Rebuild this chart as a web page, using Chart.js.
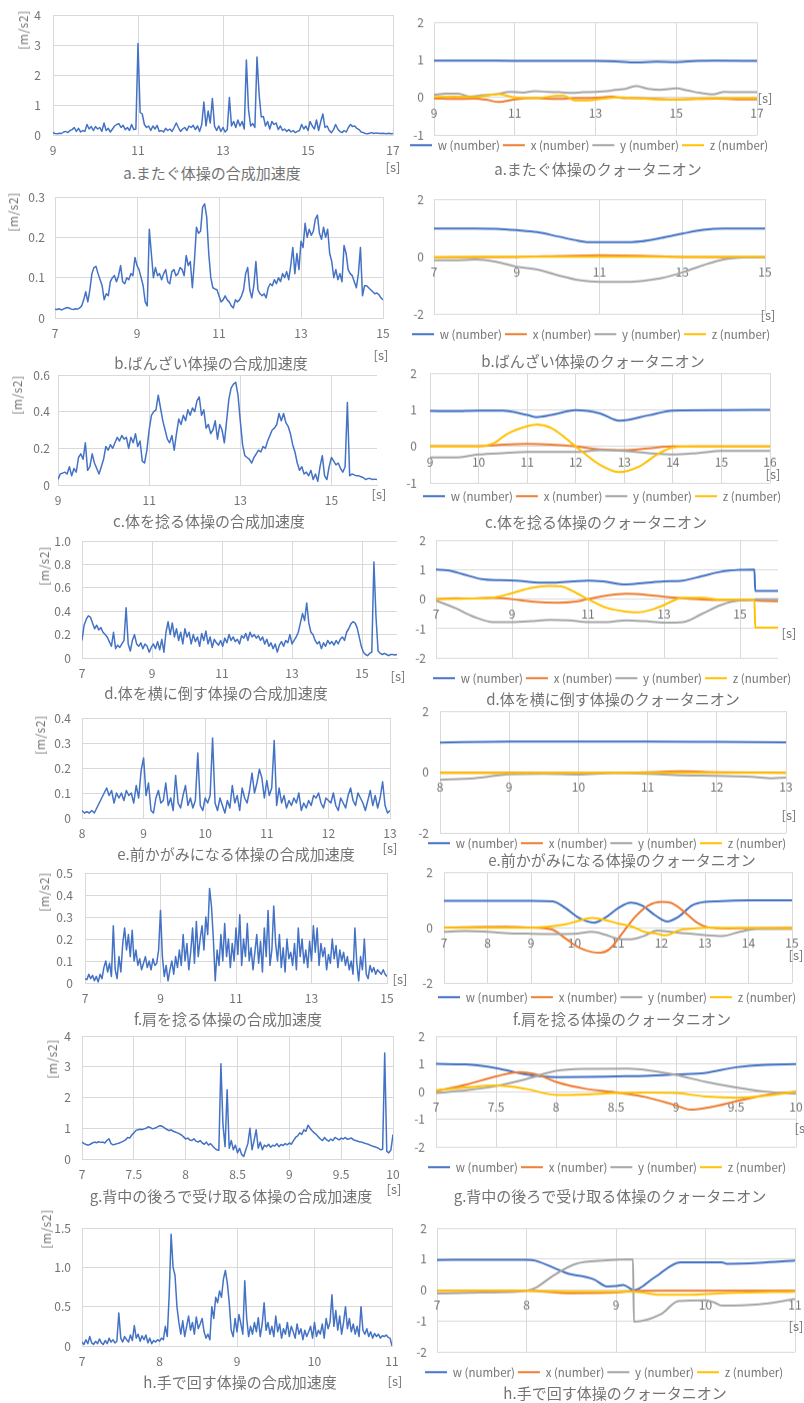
<!DOCTYPE html>
<html>
<head>
<meta charset="utf-8">
<script src="https://cdn.jsdelivr.net/npm/chart.js@4/dist/chart.umd.min.js"></script>
<style>
  html, body { margin: 0; padding: 0; background: #fff; width: 804px; height: 1403px; overflow: hidden; position: relative;
    font-family: "Noto Sans CJK JP", "Noto Sans", sans-serif; }
  canvas { position: absolute; }
  .t { position: absolute; transform: translate(-50%, -50%); white-space: nowrap; color: #737373; line-height: 1; }
  .title { font-size: 15px; }
  .unit { font-size: 13px; }
  .ylab { font-size: 12px; transform: translate(-50%, -50%) rotate(-90deg); letter-spacing: 0.5px; }
</style>
</head>
<body>
<script>
// ---- resultant acceleration samples [m/s2], one array per exercise (regular sampling) ----
const accA = [
  0.08,0.05,0.04,0.06,0.05,0.10,0.12,0.08,0.15,0.18,
  0.25,0.12,0.22,0.10,0.15,0.12,0.35,0.20,0.28,0.15,
  0.28,0.20,0.25,0.12,0.40,0.15,0.22,0.10,0.20,0.30,
  0.35,0.38,0.25,0.32,0.18,0.25,0.15,0.35,0.18,0.20,
  3.05,0.75,0.70,0.35,0.25,0.30,0.15,0.30,0.20,0.32,
  0.12,0.15,0.10,0.22,0.15,0.20,0.12,0.25,0.40,0.25,
  0.12,0.20,0.25,0.15,0.30,0.25,0.32,0.18,0.30,0.12,
  0.35,1.10,0.30,0.80,0.40,1.22,0.30,0.15,0.30,0.12,
  0.25,0.10,0.18,1.25,0.30,0.45,0.25,0.50,0.30,0.45,
  0.20,2.50,0.85,0.30,0.38,0.25,2.60,1.35,0.60,0.62,
  0.30,0.45,0.20,0.45,0.35,0.40,0.18,0.30,0.15,0.20,
  0.12,0.18,0.10,0.15,0.08,0.12,0.15,0.35,0.20,0.30,
  0.15,0.45,0.30,0.20,0.50,0.15,0.45,0.70,0.25,0.30,
  0.15,0.08,0.18,0.35,0.20,0.12,0.08,0.15,0.10,0.25,
  0.35,0.28,0.30,0.22,0.18,0.10,0.08,0.05,0.04,0.06,
  0.08,0.05,0.07,0.06,0.05,0.06,0.05,0.04,0.06,0.04,
  0.05
];
const accB = [
  0.022,0.021,0.023,0.020,0.022,0.024,0.026,0.024,0.022,0.021,
  0.023,0.022,0.025,0.030,0.045,0.065,0.040,0.070,0.110,0.125,
  0.128,0.110,0.095,0.080,0.045,0.060,0.055,0.090,0.100,0.105,
  0.090,0.105,0.130,0.090,0.085,0.100,0.095,0.110,0.105,0.150,
  0.130,0.120,0.100,0.080,0.040,0.030,0.220,0.160,0.100,0.125,
  0.105,0.110,0.095,0.110,0.120,0.090,0.085,0.115,0.120,0.105,
  0.110,0.125,0.120,0.105,0.155,0.130,0.140,0.075,0.140,0.225,
  0.210,0.215,0.275,0.283,0.250,0.160,0.100,0.075,0.072,0.070,
  0.055,0.040,0.045,0.055,0.045,0.040,0.030,0.025,0.045,0.040,
  0.045,0.055,0.070,0.110,0.125,0.070,0.050,0.080,0.140,0.070,
  0.060,0.055,0.060,0.050,0.075,0.085,0.080,0.095,0.085,0.100,
  0.090,0.110,0.100,0.115,0.095,0.130,0.175,0.110,0.160,0.120,
  0.190,0.175,0.235,0.200,0.220,0.205,0.215,0.245,0.255,0.210,
  0.195,0.225,0.200,0.220,0.160,0.140,0.100,0.120,0.095,0.110,
  0.090,0.180,0.160,0.120,0.110,0.105,0.090,0.075,0.110,0.175,
  0.055,0.080,0.080,0.075,0.070,0.065,0.060,0.062,0.058,0.050,
  0.045
];
const accC = [
  0.03,0.06,0.065,0.07,0.06,0.10,0.05,0.09,0.07,0.15,
  0.17,0.14,0.23,0.08,0.10,0.17,0.12,0.09,0.06,0.10,
  0.14,0.21,0.19,0.22,0.20,0.23,0.26,0.24,0.27,0.25,
  0.26,0.20,0.26,0.23,0.28,0.21,0.24,0.13,0.12,0.19,
  0.30,0.38,0.40,0.41,0.49,0.42,0.35,0.30,0.25,0.23,
  0.27,0.19,0.28,0.36,0.33,0.38,0.35,0.41,0.38,0.42,
  0.40,0.46,0.48,0.38,0.41,0.31,0.33,0.28,0.30,0.35,
  0.25,0.33,0.30,0.23,0.35,0.47,0.53,0.55,0.56,0.49,
  0.35,0.22,0.16,0.15,0.14,0.12,0.15,0.17,0.19,0.18,
  0.21,0.20,0.24,0.27,0.30,0.31,0.33,0.39,0.35,0.39,
  0.34,0.32,0.28,0.22,0.18,0.12,0.08,0.10,0.06,0.07,
  0.05,0.08,0.03,0.06,0.02,0.10,0.16,0.05,0.03,0.10,
  0.15,0.13,0.11,0.12,0.09,0.07,0.10,0.45,0.05,0.06,
  0.055,0.05,0.05,0.045,0.04,0.03,0.035,0.035,0.03,0.032,
  0.03
];
const accD = [
  0.15,0.28,0.33,0.36,0.35,0.30,0.25,0.28,0.24,0.26,
  0.22,0.20,0.18,0.14,0.10,0.22,0.08,0.11,0.09,0.12,
  0.15,0.43,0.12,0.06,0.15,0.20,0.12,0.10,0.13,0.08,
  0.12,0.10,0.05,0.09,0.12,0.08,0.14,0.07,0.16,0.05,
  0.22,0.31,0.20,0.30,0.18,0.25,0.15,0.22,0.12,0.25,
  0.18,0.22,0.12,0.20,0.14,0.18,0.10,0.21,0.15,0.23,
  0.12,0.18,0.09,0.16,0.13,0.11,0.15,0.10,0.17,0.13,
  0.20,0.15,0.18,0.14,0.16,0.12,0.19,0.17,0.21,0.15,
  0.22,0.18,0.20,0.17,0.19,0.15,0.18,0.12,0.16,0.10,
  0.13,0.08,0.12,0.05,0.11,0.14,0.10,0.15,0.13,0.20,
  0.12,0.15,0.18,0.22,0.30,0.38,0.32,0.47,0.30,0.22,
  0.20,0.15,0.12,0.14,0.08,0.13,0.10,0.15,0.12,0.14,
  0.11,0.15,0.12,0.16,0.18,0.15,0.22,0.25,0.29,0.31,
  0.30,0.26,0.18,0.10,0.05,0.03,0.02,0.04,0.05,0.82,
  0.35,0.06,0.04,0.03,0.04,0.03,0.02,0.03,0.03,0.025,
  0.03
];
const accE = [
  0.03,0.02,0.025,0.02,0.03,0.02,0.04,0.06,0.08,0.10,
  0.12,0.09,0.11,0.06,0.10,0.08,0.10,0.07,0.11,0.09,
  0.10,0.06,0.13,0.08,0.19,0.24,0.09,0.14,0.03,0.02,
  0.08,0.11,0.06,0.07,0.14,0.05,0.08,0.03,0.17,0.06,
  0.04,0.09,0.13,0.05,0.08,0.04,0.07,0.26,0.05,0.03,
  0.08,0.06,0.09,0.32,0.06,0.03,0.08,0.05,0.02,0.07,
  0.04,0.13,0.06,0.09,0.03,0.12,0.08,0.06,0.11,0.18,
  0.10,0.14,0.195,0.16,0.08,0.15,0.09,0.12,0.31,0.05,
  0.12,0.06,0.09,0.04,0.07,0.05,0.08,0.06,0.10,0.03,
  0.06,0.04,0.07,0.05,0.09,0.08,0.10,0.06,0.04,0.08,
  0.07,0.06,0.10,0.05,0.03,0.08,0.06,0.04,0.09,0.12,
  0.07,0.05,0.10,0.08,0.06,0.03,0.07,0.11,0.05,0.09,
  0.04,0.08,0.145,0.05,0.02,0.03
];
const accF = [
  0.02,0.015,0.04,0.02,0.035,0.01,0.03,0.005,0.04,0.02,
  0.07,0.10,0.05,0.09,0.03,0.26,0.06,0.02,0.12,0.05,
  0.18,0.25,0.15,0.22,0.12,0.24,0.10,0.15,0.08,0.11,
  0.06,0.09,0.12,0.07,0.10,0.06,0.11,0.08,0.09,0.15,
  0.33,0.12,0.03,0.08,0.01,0.06,0.10,0.04,0.12,0.07,
  0.15,0.08,0.22,0.10,0.18,0.06,0.14,0.25,0.09,0.28,
  0.12,0.20,0.26,0.15,0.30,0.22,0.43,0.35,0.20,0.01,
  0.15,0.08,0.22,0.10,0.27,0.12,0.20,0.07,0.18,0.10,
  0.25,0.13,0.31,0.08,0.20,0.12,0.27,0.10,0.16,0.06,
  0.14,0.22,0.09,0.19,0.05,0.25,0.12,0.33,0.08,0.15,
  0.35,0.18,0.10,0.22,0.07,0.16,0.05,0.20,0.11,0.14,
  0.08,0.18,0.06,0.25,0.12,0.20,0.09,0.15,0.07,0.19,
  0.10,0.26,0.14,0.25,0.08,0.18,0.12,0.16,0.06,0.13,
  0.09,0.20,0.11,0.17,0.07,0.15,0.10,0.14,0.08,0.12,
  0.06,0.10,0.04,0.25,0.09,0.01,0.12,0.06,0.20,0.04,
  0.02,0.08,0.05,0.07,0.04,0.06,0.05,0.04,0.06,0.04,
  0.03
];
const accG = [
  0.55,0.50,0.47,0.45,0.48,0.52,0.55,0.53,0.56,0.54,
  0.55,0.52,0.60,0.66,0.50,0.46,0.48,0.50,0.52,0.55,
  0.58,0.62,0.70,0.68,0.78,0.85,0.93,0.95,0.97,0.96,
  0.98,1.00,1.05,1.02,0.98,1.00,1.03,1.07,1.08,1.05,
  1.00,0.96,0.92,0.95,0.90,0.88,0.85,0.82,0.78,0.72,
  0.65,0.68,0.62,0.60,0.66,0.58,0.55,0.60,0.52,0.48,
  0.55,0.45,0.50,0.42,0.35,0.30,0.28,3.10,1.10,0.40,
  2.25,0.35,0.60,0.30,0.45,0.20,0.35,0.15,0.08,0.30,
  0.50,1.00,0.30,0.60,0.95,0.35,0.55,0.30,0.45,0.40,
  0.48,0.38,0.45,0.42,0.50,0.40,0.47,0.44,0.50,0.46,
  0.52,0.48,0.60,0.70,0.75,0.85,0.80,0.95,0.90,1.10,
  1.00,0.92,0.85,0.80,0.72,0.65,0.60,0.70,0.62,0.58,
  0.65,0.60,0.70,0.66,0.62,0.68,0.65,0.70,0.64,0.66,
  0.68,0.62,0.60,0.58,0.55,0.55,0.52,0.50,0.48,0.45,
  0.42,0.40,0.38,0.35,0.30,0.32,3.45,0.25,0.20,0.30,
  0.80
];
const accH = [
  0.05,0.02,0.08,0.03,0.12,0.04,0.02,0.06,
  0.03,0.09,0.04,0.02,0.07,0.03,0.10,0.05,
  0.08,0.04,0.06,0.42,0.10,0.05,0.12,0.08,
  0.05,0.14,0.07,0.26,0.10,0.15,0.06,0.13,
  0.08,0.14,0.04,0.10,0.03,0.07,0.05,0.08,
  0.06,0.10,0.08,0.25,0.12,0.65,1.42,1.00,
  0.90,0.50,0.30,0.15,0.32,0.12,0.25,0.38,
  0.20,0.30,0.15,0.37,0.22,0.28,0.35,0.18,
  0.10,0.15,0.08,0.50,0.35,0.62,0.55,0.70,
  0.62,0.85,0.96,0.80,0.55,0.20,0.12,0.35,
  0.18,0.40,0.28,0.15,0.83,0.35,0.12,0.25,
  0.15,0.30,0.18,0.36,0.12,0.28,0.55,0.20,
  0.30,0.15,0.25,0.12,0.38,0.18,0.28,0.10,
  0.22,0.15,0.30,0.12,0.25,0.18,0.10,0.28,
  0.15,0.22,0.08,0.20,0.12,0.18,0.25,0.10,
  0.30,0.12,0.20,0.15,0.28,0.10,0.35,0.22,
  0.30,0.65,0.25,0.45,0.20,0.38,0.15,0.30,
  0.50,0.22,0.35,0.18,0.28,0.15,0.25,0.12,
  0.50,0.20,0.15,0.22,0.12,0.18,0.10,0.16,
  0.12,0.15,0.10,0.13,0.12,0.14,0.11,0.10,
  0.00
];
// first sample time and sampling step [s] of each acceleration array
const accStart = [9, 7, 9, 7, 8, 7, 7, 7];
const accStep  = [0.05, 0.05, 0.05, 0.06, 0.04, 0.05, 0.02, 0.025];

// ---- quaternion components, [time s, value] ----
const qA_w = [[9,0.98],[10,0.98],[11,0.97],[12,0.97],[13,0.97],[13.5,0.96],[14,0.93],[14.5,0.95],[15,0.94],[15.5,0.97],[16,0.98],[17,0.97]];
const qA_x = [[9,-0.03],[9.5,-0.04],[10,-0.03],[10.3,-0.06],[10.6,-0.12],[11,-0.05],[11.5,-0.02],[12,-0.04],[12.5,-0.02],[13,-0.01],[13.4,0.02],[13.7,-0.02],[14,-0.02],[15,-0.05],[16,-0.03],[16.5,-0.05],[17,-0.05]];
const qA_y = [[9,0.07],[9.3,0.1],[9.6,0.1],[9.9,0.02],[10.2,0.06],[10.5,0.08],[10.9,0.15],[11.2,0.13],[11.5,0.17],[11.8,0.15],[12.1,0.14],[12.4,0.12],[12.7,0.14],[13,0.15],[13.3,0.17],[13.5,0.2],[13.7,0.22],[14,0.3],[14.3,0.23],[14.6,0.2],[15,0.24],[15.3,0.18],[15.6,0.12],[15.9,0.08],[16.2,0.15],[16.5,0.14],[17,0.14]];
const qA_z = [[9,0.01],[9.5,0.02],[10,0.01],[10.3,0.05],[10.6,0.09],[11,0],[11.5,-0.02],[12,0.04],[12.2,0.05],[12.5,-0.08],[12.8,-0.08],[13.2,-0.03],[13.6,0],[14,-0.02],[14.5,-0.05],[15,-0.06],[15.5,-0.03],[16,-0.02],[17,-0.02]];

const qB_w = [[7,0.98],[8,0.98],[8.5,0.97],[9,0.92],[9.5,0.85],[10,0.7],[10.5,0.55],[10.8,0.5],[11.5,0.5],[12,0.53],[12.5,0.65],[13,0.8],[13.5,0.93],[14,0.98],[15,0.98]];
const qB_x = [[7,-0.02],[9,-0.01],[10,0.02],[11,0.05],[12,0.03],[13,-0.01],[15,-0.02]];
const qB_y = [[7,-0.13],[7.5,-0.13],[8,-0.1],[8.5,-0.18],[9,-0.35],[9.5,-0.45],[10,-0.65],[10.5,-0.82],[11,-0.88],[11.5,-0.88],[12,-0.85],[12.5,-0.75],[13,-0.55],[13.5,-0.3],[14,-0.1],[14.5,-0.03],[15,-0.02]];
const qB_z = [[7,-0.02],[8,0],[9,0],[11,0],[13,-0.01],[15,0]];

const qC_w = [[9,0.97],[9.5,0.96],[10,0.98],[10.5,0.98],[11,0.86],[11.2,0.8],[11.5,0.86],[12,0.99],[12.5,0.9],[12.9,0.7],[13.5,0.85],[14,0.98],[15,0.99],[16,1.0]];
const qC_x = [[9,0.01],[10,0.01],[10.5,0.05],[11,0.07],[11.5,0.05],[12,0],[12.5,-0.08],[13,-0.1],[13.5,-0.05],[14,0],[15,0],[16,0]];
const qC_y = [[9,-0.3],[9.5,-0.3],[10,-0.22],[10.5,-0.18],[11,-0.15],[11.5,-0.15],[12,-0.15],[12.5,-0.1],[13,-0.12],[13.5,-0.18],[14,-0.22],[14.5,-0.18],[15,-0.12],[15.5,-0.12],[16,-0.12]];
const qC_z = [[9,0],[10,0],[10.3,0.08],[10.6,0.35],[11,0.55],[11.2,0.6],[11.5,0.5],[12,0],[12.5,-0.5],[12.9,-0.7],[13.3,-0.55],[13.7,-0.2],[14,-0.03],[14.5,0],[16,0]];

const qD_w = [[7,1.0],[7.3,0.98],[7.7,0.85],[8.2,0.68],[8.7,0.64],[9.2,0.62],[9.6,0.57],[10.1,0.56],[10.6,0.6],[11,0.63],[11.4,0.6],[12,0.5],[12.5,0.55],[13,0.6],[13.5,0.63],[14,0.78],[14.5,0.93],[15,0.99],[15.38,1.0],[15.4,0.28],[16,0.28]];
const qD_x = [[7,0],[7.5,0.03],[8,0.02],[8.5,0.05],[9,0],[9.5,-0.08],[10.2,-0.12],[10.7,-0.08],[11,0],[11.5,0.12],[12,0.18],[12.5,0.15],[13,0.08],[13.5,0.03],[14,-0.01],[14.5,-0.03],[15,-0.03],[15.38,-0.02],[15.4,-0.05],[16,-0.07]];
const qD_y = [[7,-0.05],[7.5,-0.3],[8,-0.6],[8.5,-0.78],[9,-0.78],[9.5,-0.75],[10,-0.7],[10.5,-0.72],[11,-0.78],[11.5,-0.78],[12,-0.72],[12.5,-0.75],[13,-0.8],[13.5,-0.78],[14,-0.5],[14.5,-0.2],[15,-0.05],[15.38,-0.02],[15.4,0],[16,0]];
const qD_z = [[7,0],[8,0.02],[8.5,0.05],[9,0.2],[9.5,0.38],[10,0.45],[10.3,0.43],[10.7,0.2],[11,0],[11.5,-0.3],[12,-0.42],[12.3,-0.45],[12.7,-0.35],[13,-0.2],[13.5,0.05],[14,0.05],[14.5,-0.02],[15,-0.02],[15.38,-0.02],[15.4,-0.97],[16,-0.97]];

const qE_w = [[8,0.97],[9,1.0],[10,1.0],[11,1.0],[12,0.99],[13,0.98]];
const qE_x = [[8,-0.02],[9,-0.02],[10,-0.03],[11,0],[11.5,0.03],[12,0],[13,-0.02]];
const qE_y = [[8,-0.25],[8.5,-0.2],[9,-0.07],[9.5,-0.05],[10,-0.08],[10.5,-0.03],[11,-0.05],[11.5,-0.1],[12,-0.12],[12.5,-0.15],[12.8,-0.2],[13,-0.18]];
const qE_z = [[8,-0.02],[9,-0.03],[10,-0.02],[13,-0.02]];

const qF_w = [[7,0.97],[8,0.97],[9,0.97],[9.5,0.95],[9.8,0.7],[10.1,0.35],[10.45,0.18],[10.7,0.35],[11,0.7],[11.3,0.9],[11.55,0.8],[11.85,0.45],[12.13,0.22],[12.4,0.4],[12.7,0.8],[13,0.93],[13.3,0.95],[14,0.98],[15,0.98]];
const qF_x = [[7,0],[8.4,0.03],[9,0],[9.5,-0.08],[9.8,-0.4],[10.1,-0.72],[10.4,-0.88],[10.6,-0.9],[10.8,-0.78],[11.1,-0.2],[11.4,0.4],[11.7,0.8],[12,0.93],[12.2,0.9],[12.5,0.6],[12.8,0.2],[13.1,0],[13.5,-0.03],[14,-0.02],[15,0]];
const qF_y = [[7,-0.15],[7.5,-0.12],[8,-0.15],[8.5,-0.2],[9,-0.22],[9.5,-0.23],[10,-0.22],[10.4,-0.15],[10.7,-0.25],[11,-0.4],[11.3,-0.42],[11.6,-0.3],[11.9,-0.1],[12.2,-0.15],[12.5,-0.2],[13,-0.27],[13.4,-0.3],[13.8,-0.15],[14.2,-0.05],[15,-0.05]];
const qF_z = [[7,0],[9,0],[9.5,0.05],[9.8,0.12],[10.1,0.25],[10.4,0.35],[10.7,0.28],[11,0.15],[11.3,0.05],[11.6,-0.15],[11.9,-0.22],[12.1,-0.28],[12.4,-0.1],[12.8,-0.02],[13,0],[15,-0.02]];

const qG_w = [[7,1.0],[7.25,0.98],[7.5,0.85],[7.75,0.62],[8,0.52],[8.25,0.53],[8.5,0.55],[8.75,0.57],[9,0.62],[9.25,0.68],[9.5,0.88],[9.75,0.97],[10,0.99]];
const qG_x = [[7,0.02],[7.25,0.25],[7.5,0.55],[7.7,0.7],[7.85,0.6],[8,0.35],[8.25,0.1],[8.5,-0.03],[8.75,-0.2],[9,-0.5],[9.12,-0.65],[9.3,-0.55],[9.5,-0.35],[9.75,-0.12],[10,0]];
const qG_y = [[7,-0.05],[7.25,0.05],[7.5,0.2],[7.75,0.45],[8,0.75],[8.25,0.82],[8.6,0.83],[8.8,0.75],[9,0.6],[9.25,0.35],[9.5,0.15],[9.75,0],[10,-0.08]];
const qG_z = [[7,0.05],[7.25,0.15],[7.5,0.22],[7.75,0.1],[8,-0.12],[8.25,-0.1],[8.5,-0.05],[8.75,-0.03],[9,-0.05],[9.25,-0.18],[9.5,-0.22],[9.75,-0.15],[10,0]];

const qH_w = [[7,0.97],[7.5,0.98],[8,0.98],[8.1,0.95],[8.45,0.55],[8.75,0.35],[8.9,0.12],[9,0.13],[9.08,0.17],[9.2,0],[9.43,0.41],[9.72,0.9],[10.18,0.9],[10.24,0.85],[10.6,0.88],[11,0.95]];
const qH_x = [[7,-0.02],[8,-0.02],[8.5,-0.1],[9,-0.08],[9.2,-0.03],[9.5,-0.02],[10,-0.02],[11,-0.02]];
const qH_y = [[7,-0.11],[7.5,-0.08],[8,-0.02],[8.1,0.07],[8.3,0.47],[8.55,0.85],[8.9,0.96],[9.19,0.99],[9.2,-1.02],[9.5,-0.78],[9.7,-0.35],[10,-0.33],[10.1,-0.4],[10.18,-0.5],[10.6,-0.46],[11,-0.29]];
const qH_z = [[7,-0.02],[8,-0.02],[8.5,-0.05],[9,-0.05],[9.2,-0.05],[9.5,-0.15],[9.8,-0.15],[10.2,-0.1],[11,-0.05]];

// ---- text ----
const accTitles = ['a.またぐ体操の合成加速度','b.ばんざい体操の合成加速度','c.体を捻る体操の合成加速度','d.体を横に倒す体操の合成加速度',
  'e.前かがみになる体操の合成加速度','f.肩を捻る体操の合成加速度','g.背中の後ろで受け取る体操の合成加速度','h.手で回す体操の合成加速度'];
const quatTitles = ['a.またぐ体操のクォータニオン','b.ばんざい体操のクォータニオン','c.体を捻る体操のクォータニオン','d.体を横に倒す体操のクォータニオン',
  'e.前かがみになる体操のクォータニオン','f.肩を捻る体操のクォータニオン','g.背中の後ろで受け取る体操のクォータニオン','h.手で回す体操のクォータニオン'];
const seriesNames = ['w (number)','x (number)','y (number)','z (number)'];

// x tick values per row
const xTicksAcc  = [[9,11,13,15,17],[7,9,11,13,15],[9,11,13,15],[7,9,11,13,15],[8,9,10,11,12,13],[7,9,11,13,15],[7,7.5,8,8.5,9,9.5,10],[7,8,9,10,11]];
const xTicksQuat = [[9,11,13,15,17],[7,9,11,13,15],[9,10,11,12,13,14,15,16],[7,9,11,13,15],[8,9,10,11,12,13],[7,8,9,10,11,12,13,14,15],[7,7.5,8,8.5,9,9.5,10],[7,8,9,10,11]];

// ---- layout of each panel (plot box in page pixels, label positions) ----
const accLayout = [
  {L:53, R:393, T:15,   B:135,  xMin:9, xMax:17, yMax:4,   yStep:1,   yPad:12, s:[393,166],  unit:[23,30],   title:[212,172]},
  {L:55, R:383, T:197,  B:318,  xMin:7, xMax:15, yMax:0.3, yStep:0.1, yPad:10, s:[381,354],  unit:[13,212],  title:[211,362]},
  {L:58, R:377, T:375,  B:485,  xMin:9, xMax:16, yMax:0.6, yStep:0.2, yPad:8,  s:[379,493],  unit:[17,395],  title:[209,520]},
  {L:82, R:397, T:541,  B:658,  xMin:7, xMax:16, yMax:1,   yStep:0.2, yPad:11, s:[398,675],  unit:[44,566],  title:[216,692]},
  {L:82, R:390, T:718,  B:818,  xMin:8, xMax:13, yMax:0.4, yStep:0.1, yPad:11, s:[390,847],  unit:[40,735],  title:[236,853]},
  {L:85, R:387, T:873,  B:983,  xMin:7, xMax:15, yMax:0.5, yStep:0.1, yPad:12, s:[400,978],  unit:[44,892],  title:[228,1018]},
  {L:82, R:393, T:1036, B:1159, xMin:7, xMax:10, yMax:4,   yStep:1,   yPad:11, s:[394,1188], unit:[52,1059], title:[231,1195]},
  {L:82, R:392, T:1228, B:1346, xMin:7, xMax:11, yMax:1.5, yStep:0.5, yPad:11, s:[395,1380], unit:[46,1229], title:[240,1381]}
];
const quatLayout = [
  {L:434, R:757, T:22,   B:135,  xMin:9, xMax:17, yMin:-1, yMax:2, yStep:1, yPad:10, legX:410, legY:145,  s:[765,97],   title:[598,168]},
  {L:434, R:765, T:199,  B:314,  xMin:7, xMax:15, yMin:-2, yMax:2, yStep:2, yPad:10, legX:412, legY:334,  s:[768,314],  title:[593,360]},
  {L:430, R:770, T:373,  B:483,  xMin:9, xMax:16, yMin:-1, yMax:2, yStep:1, yPad:13, legX:423, legY:496,  s:[773,473],  title:[596,521]},
  {L:436, R:778, T:540,  B:658,  xMin:7, xMax:16, yMin:-2, yMax:2, yStep:1, yPad:10, legX:433, legY:678,  s:[789,632],  title:[613,698]},
  {L:440, R:786, T:711,  B:833,  xMin:8, xMax:13, yMin:-2, yMax:2, yStep:2, yPad:11, legX:428, legY:843,  s:[789,814],  title:[622,859]},
  {L:444, R:792, T:872,  B:983,  xMin:7, xMax:15, yMin:-2, yMax:2, yStep:2, yPad:11, legX:438, legY:997,  s:[796,954],  title:[622,1018]},
  {L:436, R:796, T:1036, B:1147, xMin:7, xMax:10, yMin:-2, yMax:2, yStep:1, yPad:11, legX:428, legY:1167, s:[802,1127], title:[610,1195]},
  {L:437, R:795, T:1228, B:1352, xMin:7, xMax:11, yMin:-2, yMax:2, yStep:1, yPad:10, legX:425, legY:1372, s:[796,1325], title:[615,1392]}
];

const accData = [accA, accB, accC, accD, accE, accF, accG, accH];
const quatData = [
  [qA_w,qA_x,qA_y,qA_z],[qB_w,qB_x,qB_y,qB_z],[qC_w,qC_x,qC_y,qC_z],[qD_w,qD_x,qD_y,qD_z],
  [qE_w,qE_x,qE_y,qE_z],[qF_w,qF_x,qF_y,qF_z],[qG_w,qG_x,qG_y,qG_z],[qH_w,qH_x,qH_y,qH_z]
];

// ---- styling ----
const SERIES_COLORS = ['#4472C4', '#ED7D31', '#A5A5A5', '#FFC000'];
const GRID = '#D9D9D9';
const TEXT = '#737373';
const FONT = '"Noto Sans CJK JP", "Noto Sans", sans-serif';
const LEG_FS = 11.5, LEG_BOX = 22, LEG_PAD = 3;
Chart.defaults.font.family = FONT;
Chart.defaults.color = TEXT;

// width of one legend row, used to place the centred legend
const measureCtx = document.createElement('canvas').getContext('2d');
measureCtx.font = LEG_FS + 'px ' + FONT;
const legendRowWidth = seriesNames.reduce((s, n) => s + LEG_BOX + LEG_FS / 2 + measureCtx.measureText(n).width + LEG_PAD, 0);

function addText(cls, text, pos) {
  const d = document.createElement('div');
  d.className = 't ' + cls;
  d.textContent = text;
  d.style.left = pos[0] + 'px';
  d.style.top = pos[1] + 'px';
  document.body.appendChild(d);
}
function makeCanvas(left, top, w, h) {
  const c = document.createElement('canvas');
  c.width = w; c.height = h;
  Object.assign(c.style, {left: left + 'px', top: top + 'px', width: w + 'px', height: h + 'px'});
  document.body.appendChild(c);
  return c;
}
function xAxis(p, ticks, extra) {
  return Object.assign({
    type: 'linear', min: p.xMin, max: p.xMax,
    afterBuildTicks: s => { s.ticks = ticks.map(v => ({value: v})); },
    ticks: {color: TEXT, font: {size: 12}, padding: 8, maxRotation: 0, autoSkip: false, callback: v => String(v)},
    grid: {color: GRID, drawTicks: false, lineWidth: 1},
    border: {color: GRID}
  }, extra);
}
function yAxis(min, max, p, width) {
  return {type: 'linear', min, max,
    ticks: {stepSize: p.yStep, color: TEXT, font: {size: 12}, padding: p.yPad},
    grid: {color: GRID, drawTicks: false}, border: {display: false},
    afterFit: s => { s.width = width; }};
}
const PAD_T = 24;

// acceleration panels (left column)
function accChart(i) {
  const p = accLayout[i], values = accData[i];
  const padR = 22, xh = 26;
  const top = p.T - PAD_T;
  const cv = makeCanvas(0, top, p.R + padR, p.B - top + xh);
  const t0 = accStart[i], dt = accStep[i];
  new Chart(cv, {
    type: 'line',
    data: {datasets: [{
      data: values.map((v, k) => ({x: Math.round((t0 + k * dt) * 1000) / 1000, y: v})),
      borderColor: SERIES_COLORS[0], borderWidth: 1.5, borderJoinStyle: 'round',
      pointRadius: 0, tension: 0, fill: false
    }]},
    options: {
      responsive: false, animation: false, devicePixelRatio: 1,
      layout: {padding: {top: PAD_T, right: padR, left: 0, bottom: 0}},
      plugins: {legend: {display: false}, tooltip: {enabled: false}},
      scales: {
        x: xAxis(p, xTicksAcc[i], {position: 'bottom', afterFit: s => { s.height = xh; }}),
        y: yAxis(0, p.yMax, p, p.L)
      }
    }
  });
  addText('title', accTitles[i], p.title);
  addText('unit', '[s]', p.s);
  addText('ylab', '[m/s2]', p.unit);
}

// quaternion panels (right column)
function quatChart(i) {
  const p = quatLayout[i], series = quatData[i];
  const LEFT = 400, CW = 440;
  const legH = LEG_FS + LEG_PAD + 10;
  const gap = Math.max(0, p.legY - p.B - LEG_PAD - LEG_FS / 2);
  // right edge of the legend box so that the centred row starts at legX
  const legRight = 2 * p.legX - LEFT - LEG_PAD + legendRowWidth;
  const padR = Math.max(0, LEFT + CW - legRight);
  const rightAxisW = Math.max(0, (LEFT + CW - padR) - p.R);
  const top = p.T - PAD_T;
  const cv = makeCanvas(LEFT, top, CW, p.B - top + gap + legH);
  new Chart(cv, {
    type: 'line',
    data: {datasets: series.map((s, k) => ({
      label: seriesNames[k],
      data: s.map(([x, y]) => ({x, y})),
      borderColor: SERIES_COLORS[k], backgroundColor: SERIES_COLORS[k],
      borderWidth: 2, pointRadius: 0, cubicInterpolationMode: 'monotone', fill: false,
      order: 4 - k
    }))},
    options: {
      responsive: false, animation: false, devicePixelRatio: 1,
      layout: {padding: {top: PAD_T, left: 0, right: padR, bottom: 0}},
      plugins: {
        tooltip: {enabled: false},
        legend: {display: true, position: 'bottom', align: 'center',
          labels: {usePointStyle: true, pointStyle: 'line', pointStyleWidth: LEG_BOX, padding: LEG_PAD,
                   color: TEXT, font: {size: LEG_FS}, sort: (a, b) => a.datasetIndex - b.datasetIndex}}
      },
      scales: {
        x: xAxis(p, xTicksQuat[i], {position: {y: 0}}),
        y: yAxis(p.yMin, p.yMax, p, p.L - LEFT),
        yr: {type: 'linear', position: 'right', grid: {display: false}, ticks: {display: false},
             border: {display: false}, afterFit: s => { s.width = rightAxisW; }},
        xb: {type: 'linear', position: 'bottom', grid: {display: false}, ticks: {display: false},
             border: {display: false}, afterFit: s => { s.height = gap; }}
      }
    }
  });
  addText('title', quatTitles[i], p.title);
  addText('unit', '[s]', p.s);
}

for (let i = 0; i < 8; i++) { accChart(i); quatChart(i); }
</script>
</body>
</html>
